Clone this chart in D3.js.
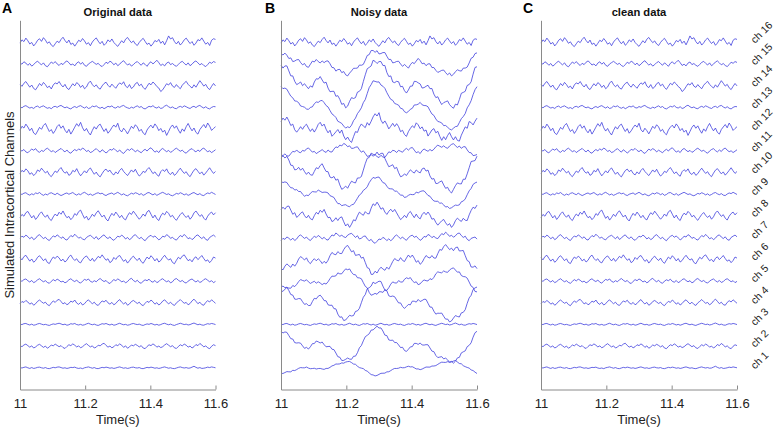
<!DOCTYPE html>
<html><head><meta charset="utf-8">
<script src="https://cdn.jsdelivr.net/npm/d3@7"></script>
<style>body{margin:0;background:#fff} text{font-family:Arial,"Liberation Sans",Helvetica,sans-serif}</style>
</head><body><svg id="chart" width="776" height="429"></svg>
<script>
// ---------- data ----------
const timeStart = 11, timeStep = 0.006, sampleCount = 101;
const xTicks = [11, 11.2, 11.4, 11.6];
const xTickLabels = ["11", "11.2", "11.4", "11.6"];
const channelNames = ["ch 1","ch 2","ch 3","ch 4","ch 5","ch 6","ch 7","ch 8","ch 9","ch 10","ch 11","ch 12","ch 13","ch 14","ch 15","ch 16"];
const panelTitles = ["Original data", "Noisy data", "clean data"];
const panelLetters = ["A", "B", "C"];

// original signals per channel (arbitrary units, channel spacing = 100)
const ch1 = [1,-1,2,4,0,-3,1,-3,-1,2, 3,0,-2,1,-3,-4,-1,2,0,3, 4,1,-2,0,-3,-1,2,1,3,-1, -3,-1,-4,0,2,4,1,-2,1,-3, -4,-1,2,0,3,1,-2,0,-3,-1, 2,4,1,-2,0,-3,-1,2,3,0, -1,1,-3,-4,-1,2,0,3,1,-2, 0,-3,-1,2,4,1,-2,0,-3,-4, -1,2,4,1,-1,1,-2,-1,3,7, 2,-2,1,-3,-2,0,3,1,4,2, 0];
const ch2 = [3,-3,5,9,2,-5,1,-9,-4,4, 8,1,-6,0,-10,-4,5,1,9,3, -3,2,-7,-11,-2,6,2,10,4,-4, 1,-8,-3,5,11,3,-4,1,-9,-5, 4,1,9,13,3,-5,0,-8,-3,6, 2,10,4,-6,1,-10,-4,5,1,8, 3,-4,2,-9,-12,-2,6,2,10,4, -5,0,-7,-3,5,11,4,-3,2,-8, -11,-2,6,1,9,4,-5,0,-9,-3, 7,2,12,5,-4,1,-8,-12,-1,6, 2];
const ch3 = [1,-1,3,4,0,-3,1,-4,-2,2, 4,1,-2,0,-3,-5,-1,2,0,3, 5,2,-2,1,-4,-2,3,1,4,-1, -3,0,-4,-2,2,5,1,-2,1,-3, -5,-1,3,1,4,0,-3,1,-4,-2, 2,5,1,-2,0,-4,-2,2,4,1, -1,1,-3,-5,-1,2,0,4,1,-3, 0,-4,-1,3,5,1,-2,1,-3,-5, -1,2,5,2,-1,1,-3,-1,3,6, 2,-2,1,-3,-4,0,3,1,4,2, -1];
const ch4 = [-4,5,1,10,3,-7,-1,-12,-5,6, 12,4,-3,2,-9,-14,-2,8,1,11, 15,5,-6,0,-10,-4,7,2,12,-2, -8,1,-11,-5,6,13,3,-5,2,-9, -13,-2,8,3,11,-1,-7,1,-10,-4, 7,14,2,-6,1,-12,-6,5,10,3, -4,2,-9,-14,-3,6,1,12,4,-7, 0,-11,-4,7,13,3,-6,2,-8,-13, -1,6,14,5,-3,1,-10,-4,8,16, 6,-5,2,-9,-12,1,9,3,13,5, -3];
const ch5 = [3,-2,6,9,1,-5,2,-8,-3,5, 10,2,-4,1,-7,-11,-2,6,0,8, 3,-5,-1,-9,-4,5,10,2,-3,4, -6,-10,-1,7,3,9,-2,-6,1,-4, 5,11,3,-3,2,-8,-12,-2,6,1, 9,4,-5,0,-9,-3,7,12,2,-4, 3,-7,-11,-1,5,1,8,-2,-6,2, -8,-3,6,10,2,-4,1,-9,-4,7, 11,3,-3,2,-6,-10,-1,5,9,1, -5,2,-7,-3,6,10,3,-4,1,-8, -2];
const ch6 = [7,-3,12,18,4,-9,1,-14,-6,9, 16,5,-7,2,-15,-20,-3,10,3,14, 6,-8,0,-13,-5,11,19,4,-6,2, -12,-17,-2,9,15,3,-8,4,-10,1, 13,6,20,7,-5,2,-16,-9,8,-1, 12,17,3,-10,-2,-18,-7,6,14,2, -6,5,-11,-19,-4,10,1,16,6,-8, 3,-13,-6,8,18,5,-4,2,-15,-21, -5,9,1,14,20,6,-7,-1,-12,4, 11,-2,7,17,3,-9,-3,-16,-6,10, 5];
const ch7 = [-3,6,1,11,4,-6,2,-10,-4,8, 13,3,-5,1,-9,-14,-2,7,2,12, 5,-4,3,-8,-12,-1,9,3,15,6, -3,1,-7,-11,0,6,10,2,-6,4, -9,-3,7,12,1,-5,3,-8,-13,-4, 6,2,11,4,-7,0,-10,-4,8,13, 3,-6,1,-9,-15,-3,5,10,1,7, -2,-11,-5,6,2,13,7,-4,1,-8, -12,-1,9,3,14,5,-6,-1,-10,-3, 8,12,2,-5,3,-9,-13,0,6,11, 3];
const ch8 = [-8,6,-2,14,20,5,-10,1,-17,-6, 9,18,3,-7,4,-14,-22,-5,8,-1, 16,7,22,4,-9,-3,-18,-8,10,2, 19,26,6,-12,-2,-20,-8,7,-3,13, 23,8,-6,3,-15,-24,-4,11,1,17, 5,-9,2,-13,-19,0,14,6,21,9, -4,-16,-6,8,-2,18,25,7,-10,3, -14,-22,-1,12,4,20,11,-5,2,-12, -21,-7,6,15,2,-8,1,-16,-5,13, 22,9,-3,5,-11,-20,-2,10,17,4, 14];
const ch9 = [2,-2,4,6,-1,-5,1,-3,5,2, 7,-1,-6,0,-4,3,6,1,-3,4, -2,-7,-3,2,5,-1,3,7,0,-5, 1,-3,4,8,2,-4,0,-6,-2,3, 6,1,4,-3,-7,-1,2,5,-2,3, 8,2,-4,1,-5,-8,-2,4,0,6, 3,-3,2,-6,-2,5,7,1,-4,2, -6,-1,4,8,3,-2,1,-5,-8,-3, 3,0,6,2,-4,1,-6,-2,4,7, 1,-3,2,-5,-7,0,5,2,8,3, -2];
const ch10 = [-5,9,2,16,7,-9,-2,-15,-6,11, 4,19,8,-3,5,-12,-20,-7,6,-1, 13,22,6,-4,3,-14,-8,9,2,17, -2,-16,-5,7,-3,12,20,5,-9,1, -13,-21,-6,8,15,3,10,-5,-12,2, -7,9,18,4,-6,-15,-2,11,1,14, -4,-17,-9,5,-1,13,22,8,-6,2, -11,-18,3,12,4,16,-3,-10,1,-14, -6,8,19,6,-5,3,-12,-20,-4,10, 17,5,-7,2,-13,-3,9,21,7,-5, 4];
const ch11 = [3,-2,5,-6,-10,-1,7,2,9,-3, -8,1,-4,6,11,3,-5,0,-9,-2, 4,10,1,-6,3,-8,-12,-2,5,-1, 8,2,12,6,-4,1,-9,-5,3,9, 0,-7,4,-3,-11,-4,6,2,10,1, -5,3,-8,-13,-3,7,1,9,4,-6, 2,-4,-10,0,6,-2,8,13,3,-7, -1,-9,4,10,2,-5,1,-8,-3,6, 11,4,-3,2,-7,-12,-2,5,9,0, -6,3,-4,7,12,2,-5,-1,-9,-3, 4];
const ch12 = [-6,12,4,22,9,-8,3,-19,-26,-10, 7,-2,16,25,6,-12,-3,-21,-8,11, 20,3,14,-6,-18,-2,-24,-9,8,24, 12,30,5,-10,2,-16,-28,-7,10,-1, 15,22,4,-12,1,-20,-9,6,18,8, 26,-4,-14,3,-8,-23,-6,12,2,19, 9,-11,-2,-19,-27,-5,8,17,4,23, 11,-8,2,-15,-6,-30,-12,7,18,3, 14,-5,-20,0,-11,10,25,6,-9,4, -16,-24,-3,9,20,5,27,13,-7,2, 10];
const ch13 = [2,-3,4,7,1,-4,-1,-6,2,5, -2,3,6,0,-5,-2,-7,1,4,-1, 5,8,2,-3,1,-5,-8,-1,3,-2, 4,7,1,-4,2,-6,-3,5,2,6, -1,-5,0,-7,-2,4,1,6,-2,-4, 3,-1,5,8,1,-3,-6,0,-4,2, 6,-1,3,-5,-8,-2,4,1,7,-1, -4,2,-6,-3,5,9,2,-3,1,-5, -7,0,4,-1,6,2,-3,-6,1,4, -2,5,8,1,-4,2,-5,-8,-1,3, 2];
const ch14 = [6,-4,10,18,5,-8,2,-14,-20,-6, 9,-1,14,4,-10,-3,-16,2,12,7, 18,3,-7,5,-12,-19,-5,8,-2,13, 6,-9,1,-15,-7,11,20,4,-6,3, -11,-17,-2,9,15,1,-8,6,-4,-13, 2,12,5,17,-3,-10,4,-14,-7,8, 14,-2,6,-9,-18,-4,10,3,16,7, -5,-12,-28,-20,-6,8,2,13,-3,-9, 4,-7,-15,1,11,19,5,-4,-12,3, -8,7,22,10,-3,5,-11,-19,-4,9, -2];
const ch15 = [4,-2,9,3,-7,1,-11,-4,6,12, 2,-5,4,-9,-14,-3,8,1,10,-1, -8,2,-4,7,13,5,-6,-1,-10,3, 9,-2,6,-7,-12,-1,5,11,4,-3, 2,-8,-13,-4,7,1,12,6,-5,3, -9,-2,8,14,3,-6,0,-11,-4,5, 10,1,-7,4,-3,-12,2,9,-1,7, 16,5,-8,-2,-10,3,8,-4,1,-7, -12,-3,6,11,2,-6,4,-9,-2,8, 13,4,-5,1,-8,-13,-4,7,2,10, 6];
const ch16 = [-5,10,2,18,6,-9,-2,-18,-7,8, 15,3,20,9,-6,1,-14,-21,-8,4, -3,12,22,7,-4,9,-11,-5,-19,-6, 8,2,16,5,-10,-3,-17,0,11,19, 4,-8,3,-15,-6,10,1,14,-2,-12, -20,-7,6,-4,13,21,8,-3,5,-9, -16,-2,9,17,3,-11,-5,-19,-8,7, 1,12,-6,4,-13,6,28,14,20,2, -9,3,-14,-4,10,18,5,-7,2,-15, -5,11,6,19,4,-10,-2,-16,8,15, 12];

// slow artifact present in the noisy recording, and its weight on each channel (ch1..ch16)
const artifactSource = [88,84,80,72,62,52,42,33,24,15,7,0,-6,-8,-5,1,8,14,19,22,23,22,18,10,0,-10,-22,-35,-48,-60,-70,-78,-84,-88,-88,-84,-76,-64,-50,-34,-16,2,20,40,62,82,98,110,115,114,108,98,87,75,63,51,40,30,20,11,3,-4,-10,-15,-17,-17,-13,-6,3,11,17,19,16,10,2,-7,-17,-27,-37,-47,-56,-65,-73,-80,-86,-90,-93,-94,-93,-89,-82,-72,-58,-42,-24,-5,15,36,56,74,88];
const artifactWeights = [-0.3, 0.75, 0, 0.85, -0.55, -0.55, -0.12, 0.4, 0.65, 0.8, -0.25, 0.45, 1.05, 1.0, 0.5, 0];

const originalData = [ch1,ch2,ch3,ch4,ch5,ch6,ch7,ch8,ch9,ch10,ch11,ch12,ch13,ch14,ch15,ch16];
const noisyData = originalData.map((s, c) => s.map((v, i) => v + artifactWeights[c] * artifactSource[i]));
const cleanData = originalData;
const panelData = [originalData, noisyData, cleanData];

// ---------- drawing ----------
const svg = d3.select("#chart");
svg.append("rect").attr("width", 776).attr("height", 429).attr("fill", "#fff");
const times = d3.range(sampleCount).map(i => timeStart + i * timeStep);
const panelX = [[20, 215.5], [281, 477], [541, 737]];
const letterX = [2, 265, 523];
const y = d3.scaleLinear().domain([0, 1700]).range([389.5, 20.3]);
const axisColor = "#8a8a8a";
const traceColor = "#3434dc";

panelData.forEach((data, p) => {
  const x = d3.scaleLinear().domain([11, 11.6]).range(panelX[p]);
  const g = svg.append("g");
  data.forEach((series, c) => {
    const offset = (c + 1) * 100;
    const line = d3.line().x((d, i) => x(times[i])).y(d => y(offset + d));
    g.append("path").datum(series).attr("d", line)
      .attr("fill", "none").attr("stroke", traceColor).attr("stroke-width", 0.75)
      .attr("stroke-linejoin", "round");
  });
  const ax = g.append("g").attr("transform", `translate(0,${y(0)})`)
    .call(d3.axisBottom(x).tickValues(xTicks).tickFormat((d, i) => xTickLabels[i])
      .tickSizeInner(-4).tickSizeOuter(0).tickPadding(9));
  ax.select(".domain").attr("stroke", axisColor);
  ax.selectAll(".tick line").attr("stroke", axisColor);
  ax.selectAll(".tick text").attr("font-size", 13).attr("fill", "#222")
    .attr("font-family", "Arial, 'Liberation Sans', sans-serif");
  const ay = g.append("g").attr("transform", `translate(${panelX[p][0]},0)`)
    .call(d3.axisLeft(y).tickValues([]).tickSizeOuter(0));
  ay.select(".domain").attr("stroke", axisColor);
  g.append("text").attr("x", (panelX[p][0] + panelX[p][1]) / 2).attr("y", 424)
    .attr("text-anchor", "middle").attr("font-size", 13).attr("fill", "#222").text("Time(s)");
  g.append("text").attr("x", (panelX[p][0] + panelX[p][1]) / 2).attr("y", 16)
    .attr("text-anchor", "middle").attr("font-size", 11.2).attr("font-weight", "bold").attr("fill", "#111")
    .text(panelTitles[p]);
  g.append("text").attr("x", letterX[p]).attr("y", 13)
    .attr("font-size", 14).attr("font-weight", "bold").attr("fill", "#000").text(panelLetters[p]);
});

svg.append("text").attr("transform", "translate(14,205) rotate(-90)")
  .attr("text-anchor", "middle").attr("font-size", 13).attr("fill", "#222")
  .text("Simulated Intracortical Channels");

channelNames.forEach((name, c) => {
  const yy = y((c + 1) * 100);
  svg.append("text").attr("transform", `translate(755,${yy + 2}) rotate(-45)`)
    .attr("font-size", 10.5).attr("fill", "#222").text(name);
});
</script></body></html>
